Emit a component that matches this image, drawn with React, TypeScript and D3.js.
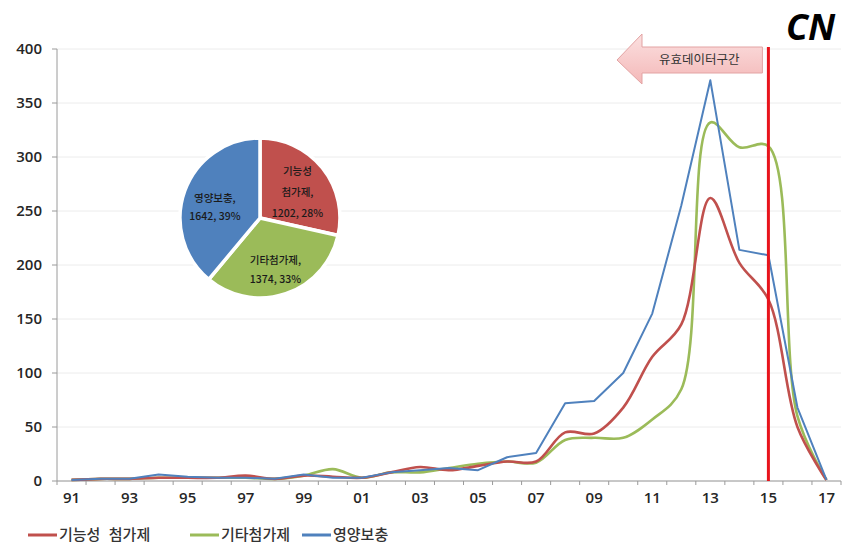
import React from "react";
import * as d3 from "d3";

const years = ["91","92","93","94","95","96","97","98","99","00","01","02","03","04","05","06","07","08","09","10","11","12","13","14","15","16","17"];
const tickLabels = ["91","93","95","97","99","01","03","05","07","09","11","13","15","17"];
const funcAdditive = [1,2,2,3,3,3,5,2,5,4,3,8,13,10,14,18,18,45,44,68,115,145,262,202,168,50,1];
const otherAdditive = [1,2,2,3,3,3,3,2,5,11,3,8,8,12,16,18,17,38,40,40,57,85,332,309,310,60,1];
const nutrition = [1,2,2,6,4,3,3,2,6,3,3,8,10,12,10,22,26,72,74,100,155,255,371,214,209,68,1];
const seriesNames = ["기능성 첨가제", "기타첨가제", "영양보충"];
const seriesColors = ["#C0504D", "#9BBB59", "#4F81BD"];
const yTicks = [0,50,100,150,200,250,300,350,400];
const pieNames = ["기능성\n첨가제", "기타첨가제", "영양보충"];
const pieValues = [1202, 1374, 1642];
const piePercents = ["28%", "33%", "39%"];
const markerYear = "15";
const annotation = "유효데이터구간";

export default function App() {
  const W = 847, H = 549;
  const left = 57, right = 841, top = 49, bottom = 481;
  const x = d3.scalePoint<string>().domain(years).range([left, right]).padding(0.5);
  const band = x.step();
  const y = d3.scaleLinear().domain([0, 400]).range([bottom, top]);

  const smooth = d3.line<number>().x((_, i) => x(years[i])!).y(d => y(d)).curve(d3.curveCatmullRom.alpha(0.5));
  const straight = d3.line<number>().x((_, i) => x(years[i])!).y(d => y(d));

  const pie = d3.pie<number>().sort(null)(pieValues);
  const R = 80;
  const cx = 260, cy = 218;
  const arc = d3.arc<d3.PieArcDatum<number>>().innerRadius(0).outerRadius(R);
  const labelArc = d3.arc<d3.PieArcDatum<number>>().innerRadius(48).outerRadius(48);

  const mx = x(markerYear)!;
  const font = "'Open Sans', 'Noto Sans CJK KR', sans-serif";
  const kfont = "'Noto Sans CJK KR', sans-serif";

  const aRight = mx - 6, aLeft = 617, aMid = 60;
  const arrowPath = `M${aLeft},${aMid} L${aLeft + 25},${aMid - 26} L${aLeft + 25},${aMid - 13} L${aRight},${aMid - 13} L${aRight},${aMid + 13} L${aLeft + 25},${aMid + 13} L${aLeft + 25},${aMid + 24} Z`;

  const labelOffsets = [4, 6, 6];
  const labelLH = [21, 19, 18];

  return (
    <svg width={W} height={H} style={{ position: "absolute", left: 0, top: 0, background: "#fff" }}>
      <defs>
        <linearGradient id="ag" x1="0" y1="0" x2="0" y2="1">
          <stop offset="0" stopColor="#FBE0E0" />
          <stop offset="1" stopColor="#F4B8B8" />
        </linearGradient>
      </defs>
      <rect width={W} height={H} fill="#fff" />
      {yTicks.map(t => (
        <line key={t} x1={left} x2={right} y1={y(t)} y2={y(t)} stroke="#ececec" strokeWidth={1} />
      ))}
      <line x1={left} x2={left} y1={top} y2={bottom} stroke="#9a9a9a" />
      <line x1={left} x2={right} y1={bottom} y2={bottom} stroke="#9a9a9a" />
      {yTicks.map(t => (
        <g key={"yt" + t}>
          <line x1={left - 5} x2={left} y1={y(t)} y2={y(t)} stroke="#9a9a9a" />
          <text x={left - 15} y={y(t)} dy="0.35em" textAnchor="end" fontFamily={font} fontWeight={600} fontSize={15} fill="#262626">{t}</text>
        </g>
      ))}
      {years.map(yr => (
        <line key={"xt" + yr} x1={x(yr)! - band / 2} x2={x(yr)! - band / 2} y1={bottom} y2={bottom + 4} stroke="#9a9a9a" />
      ))}
      <line x1={right} x2={right} y1={bottom} y2={bottom + 4} stroke="#9a9a9a" />
      {tickLabels.map(l => (
        <text key={"xl" + l} x={x(l)!} y={bottom + 22} textAnchor="middle" fontFamily={font} fontWeight={600} fontSize={15} fill="#262626">{l}</text>
      ))}
      <path d={smooth(otherAdditive)!} fill="none" stroke={seriesColors[1]} strokeWidth={2.6} strokeLinejoin="round" />
      <path d={smooth(funcAdditive)!} fill="none" stroke={seriesColors[0]} strokeWidth={2.6} strokeLinejoin="round" />
      <path d={straight(nutrition)!} fill="none" stroke={seriesColors[2]} strokeWidth={2} strokeLinejoin="round" />
      <line x1={mx} x2={mx} y1={top - 2} y2={bottom} stroke="#E8141C" strokeWidth={3} />
      <path d={arrowPath} fill="url(#ag)" stroke="#E3A3A3" strokeWidth={1} />
      <text x={(aLeft + 25 + aRight) / 2 - 3} y={aMid} dy="0.35em" textAnchor="middle" fontFamily={kfont} fontSize={12.5} fill="#333">{annotation}</text>
      <text x={786} y={40} fontFamily="'Open Sans', 'Liberation Sans', sans-serif" fontWeight={700} fontStyle="italic" fontSize={36} fill="#000">CN</text>
      <g transform={`translate(${cx},${cy})`}>
        {pie.map((p, i) => (
          <path key={"s" + i} d={arc(p)!} fill={seriesColors[i]} stroke="#fff" strokeWidth={3.5} strokeLinejoin="miter" />
        ))}
        {pie.map((p, i) => {
          const [lx, ly] = labelArc.centroid(p);
          const lines = (pieNames[i] + ",").split("\n").concat([`${pieValues[i]}, ${piePercents[i]}`]);
          const lh = labelLH[i];
          return (
            <text key={"l" + i} x={lx} y={ly + labelOffsets[i] - ((lines.length - 1) * lh) / 2} textAnchor="middle" fontFamily={kfont} fontWeight={500} fontSize={10.5} fill="#1a1a1a">
              {lines.map((ln, j) => (
                <tspan key={j} x={lx} dy={j === 0 ? "0.35em" : lh}>{ln}</tspan>
              ))}
            </text>
          );
        })}
      </g>
      {seriesNames.map((n, i) => {
        const lx = [28, 190, 302][i];
        return (
          <g key={"lg" + i}>
            <line x1={lx} x2={lx + 29} y1={535} y2={535} stroke={seriesColors[i]} strokeWidth={3} />
            <text x={lx + 31} y={535} dy="0.35em" fontFamily={kfont} fontWeight={500} fontSize={15} wordSpacing={5} fill="#333">{n}</text>
          </g>
        );
      })}
    </svg>
  );
}
